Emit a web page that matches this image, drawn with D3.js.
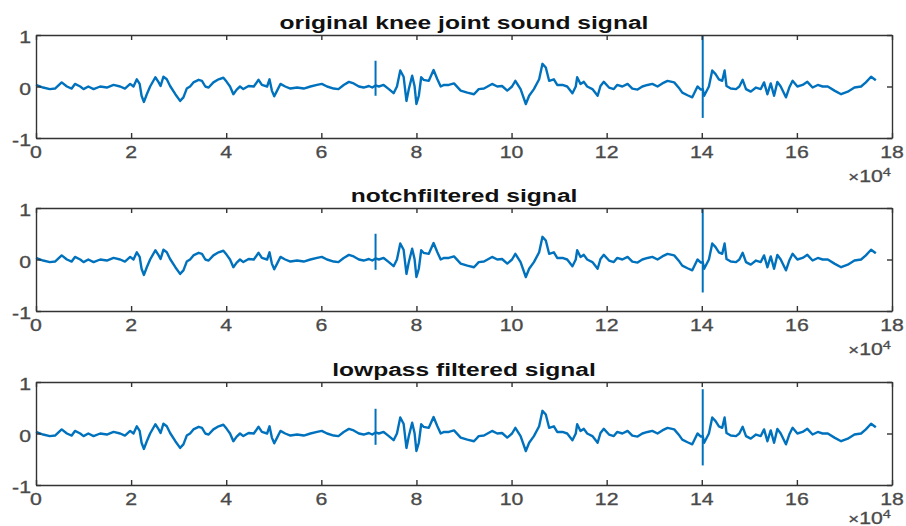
<!DOCTYPE html>
<html>
<head>
    <style>
        body { margin: 0; background: #fff; }
        .title { font: bold 18.5px "Liberation Sans", Arial, sans-serif; fill: #111; text-anchor: middle; }
        .tick-label { font: 16px "Liberation Sans", Arial, sans-serif; fill: #4a4a4a; stroke: #4a4a4a; stroke-width: 0.3; }
        .axis path, .axis line { stroke: #333; stroke-width: 1.4; }
        .signal { fill: none; stroke: #0072bd; stroke-width: 2.4; stroke-linejoin: round; }
        .spike { stroke: #0072bd; stroke-width: 2; }
    </style>
    <script src="https://d3js.org/d3.v7.min.js"></script>
</head>
<body>
    <svg width="906" height="526"></svg>
    <script>
        // sample positions (x 10^4) and amplitudes
        var signalX = [0.00, 0.15, 0.29, 0.40, 0.54, 0.65, 0.75, 0.82, 0.93, 1.00, 1.10, 1.21, 1.35, 1.49, 1.63, 1.77, 1.87, 1.98,
            2.05, 2.12, 2.18, 2.22, 2.27, 2.33, 2.40, 2.51, 2.58, 2.62, 2.68, 2.75, 2.82, 2.93, 3.03, 3.10, 3.17, 3.24,
            3.31, 3.42, 3.49, 3.56, 3.63, 3.73, 3.84, 3.94, 4.01, 4.08, 4.15, 4.22, 4.29, 4.36, 4.47, 4.58, 4.68, 4.75,
            4.86, 4.91, 4.96, 5.01, 5.07, 5.14, 5.24, 5.35, 5.49, 5.63, 5.77, 5.91, 6.01, 6.12, 6.26, 6.36, 6.47, 6.58,
            6.68, 6.79, 6.89, 7.00, 7.07, 7.14, 7.21, 7.31, 7.42, 7.52, 7.59, 7.66, 7.73, 7.79, 7.84, 7.91, 7.96, 8.00,
            8.05, 8.10, 8.15, 8.26, 8.36, 8.44, 8.51, 8.58, 8.68, 8.79, 8.93, 9.07, 9.21, 9.31, 9.42, 9.59, 9.70, 9.80,
            9.91, 10.01, 10.08, 10.19, 10.30, 10.37, 10.47, 10.58, 10.65, 10.72, 10.79, 10.89, 10.96, 11.07, 11.17, 11.28,
            11.35, 11.38, 11.45, 11.52, 11.59, 11.70, 11.81, 11.87, 11.94, 12.05, 12.15, 12.22, 12.33, 12.44, 12.54, 12.65,
            12.75, 12.86, 12.96, 13.07, 13.17, 13.28, 13.42, 13.53, 13.59, 13.70, 13.80, 13.91, 13.98, 14.02, 14.05, 14.15,
            14.22, 14.29, 14.36, 14.43, 14.48, 14.52, 14.61, 14.72, 14.79, 14.86, 14.93, 15.03, 15.14, 15.24, 15.31, 15.38,
            15.45, 15.52, 15.59, 15.66, 15.77, 15.84, 15.91, 16.01, 16.12, 16.22, 16.33, 16.44, 16.54, 16.65, 16.79, 16.93,
            17.07, 17.21, 17.35, 17.45, 17.56, 17.66];

        var originalSignal = [0.03, -0.02, -0.05, -0.04, 0.08, 0.00, -0.04, 0.05, 0.00, -0.05, 0.00, -0.05, 0.00, -0.02, 0.03, 0.00, -0.04, 0.05,
            0.00, 0.14, 0.05, -0.18, -0.30, -0.15, 0.00, 0.18, 0.08, 0.01, 0.19, 0.14, 0.01, -0.15, -0.28, -0.21, -0.04, 0.00,
            0.08, 0.13, 0.11, 0.00, -0.02, 0.08, 0.14, 0.17, 0.09, 0.00, -0.15, -0.06, 0.00, -0.05, 0.01, 0.00, 0.13, 0.03,
            0.00, 0.14, -0.08, -0.19, -0.08, 0.05, 0.00, -0.04, -0.02, -0.04, 0.00, 0.03, 0.05, 0.00, -0.04, -0.05, 0.03, 0.09,
            0.06, 0.00, -0.02, 0.01, -0.02, 0.02, 0.00, 0.03, -0.05, -0.13, 0.00, 0.31, 0.19, -0.28, -0.05, 0.21, 0.01, -0.34,
            -0.18, 0.18, 0.13, 0.11, 0.32, 0.14, 0.00, 0.03, 0.03, 0.06, -0.08, -0.12, -0.15, -0.05, -0.04, 0.05, 0.00, 0.01,
            -0.08, 0.00, 0.11, -0.05, -0.34, -0.18, -0.05, 0.14, 0.44, 0.37, 0.11, 0.14, 0.03, 0.03, 0.00, -0.13,
            0.00, 0.18, 0.05, 0.09, 0.00, -0.05, -0.18, 0.01, 0.09, -0.02, -0.05, 0.03, 0.00, 0.05, -0.04, -0.06,
            0.00, 0.03, 0.05, 0.00, 0.06, 0.11, 0.08, -0.04, -0.12, -0.17, -0.21, 0.00, -0.06, -0.05, -0.18, 0.00,
            0.31, 0.24, 0.14, 0.11, 0.31, 0.01, -0.04, -0.05, 0.00, 0.13, -0.05, -0.10, -0.02, -0.05, 0.08, -0.15,
            0.06, -0.18, 0.09, 0.00, -0.21, -0.02, 0.11, 0.00, 0.03, 0.09, -0.02, 0.03, 0.00, 0.00, -0.08, -0.15,
            -0.10, -0.02, 0.00, 0.08, 0.19, 0.12];

        // the filtered traces look the same as the original at this scale
        var notchSignal = originalSignal;
        var lowpassSignal = originalSignal;

        // short transients drawn as vertical strokes: [top, bottom]
        var spikeX = [7.14, 14.02];
        var originalSpikes = [[0.50, -0.18], [0.99, -0.61]];
        var notchSpikes = [[0.50, -0.20], [0.98, -0.64]];
        var lowpassSpikes = [[0.48, -0.22], [0.86, -0.62]];

        var titles = ["original knee joint sound signal", "notchfiltered signal", "lowpass filtered signal"];
        var xTicks = [0, 2, 4, 6, 8, 10, 12, 14, 16, 18];
        var yTicks = [-1, 0, 1];

        var panels = [
            {title: titles[0], values: originalSignal, spikes: originalSpikes, top: 35},
            {title: titles[1], values: notchSignal, spikes: notchSpikes, top: 208},
            {title: titles[2], values: lowpassSignal, spikes: lowpassSpikes, top: 382}
        ];

        var svg = d3.select("svg"),
            left = 36,
            right = 892,
            plotH = 103,
            stretch = "scale(1.33,1)";   // the source image is widened, so is its lettering

        var x = d3.scaleLinear().domain([0, 18]).range([left, right]);

        panels.forEach(function(p) {
            var y = d3.scaleLinear().domain([-1, 1]).range([p.top + plotH, p.top]);
            var g = svg.append("g");

            var line = d3.line()
                .x(function(d, i) { return x(signalX[i]); })
                .y(function(d) { return y(d); });

            g.append("path")
                .datum(p.values)
                .attr("class", "signal")
                .attr("d", line);

            g.selectAll(".spike")
                .data(p.spikes)
                .enter().append("line")
                .attr("class", "spike")
                .attr("x1", function(d, i) { return x(spikeX[i]); })
                .attr("x2", function(d, i) { return x(spikeX[i]); })
                .attr("y1", function(d) { return y(d[0]); })
                .attr("y2", function(d) { return y(d[1]); });

            // box with inward ticks, MATLAB style
            g.append("g").attr("class", "axis")
                .attr("transform", "translate(0," + (p.top + plotH) + ")")
                .call(d3.axisBottom(x).tickValues(xTicks).tickSizeInner(-5).tickSizeOuter(0).tickFormat(""));
            g.append("g").attr("class", "axis")
                .attr("transform", "translate(0," + p.top + ")")
                .call(d3.axisTop(x).tickValues(xTicks).tickSizeInner(-5).tickSizeOuter(0).tickFormat(""));
            g.append("g").attr("class", "axis")
                .attr("transform", "translate(" + left + ",0)")
                .call(d3.axisLeft(y).tickValues(yTicks).tickSizeInner(-5).tickSizeOuter(0).tickFormat(""));
            g.append("g").attr("class", "axis")
                .attr("transform", "translate(" + right + ",0)")
                .call(d3.axisRight(y).tickValues(yTicks).tickSizeInner(-5).tickSizeOuter(0).tickFormat(""));

            g.selectAll(".xl")
                .data(xTicks)
                .enter().append("text")
                .attr("class", "tick-label")
                .attr("text-anchor", "middle")
                .attr("transform", function(d) { return "translate(" + x(d) + "," + (p.top + plotH + 20) + ") " + stretch; })
                .text(function(d) { return d; });

            g.selectAll(".yl")
                .data(yTicks)
                .enter().append("text")
                .attr("class", "tick-label")
                .attr("text-anchor", "end")
                .attr("transform", function(d) { return "translate(" + (left - 5) + "," + (y(d) + 8) + ") " + stretch; })
                .text(function(d) { return d; });

            var ex = g.append("text")
                .attr("class", "tick-label")
                .attr("text-anchor", "end")
                .attr("transform", "translate(" + (right - 1) + "," + Math.min(p.top + plotH + 44, 524) + ") " + stretch);
            ex.append("tspan").style("font-size", "14px").text("\u00d7");
            ex.append("tspan").text("10");
            ex.append("tspan").attr("dy", -6).style("font-size", "11px").text("4");

            g.append("text")
                .attr("class", "title")
                .attr("transform", "translate(" + ((left + right) / 2) + "," + (p.top - 6) + ") " + stretch)
                .text(p.title);
        });
    </script>
</body>
</html>
